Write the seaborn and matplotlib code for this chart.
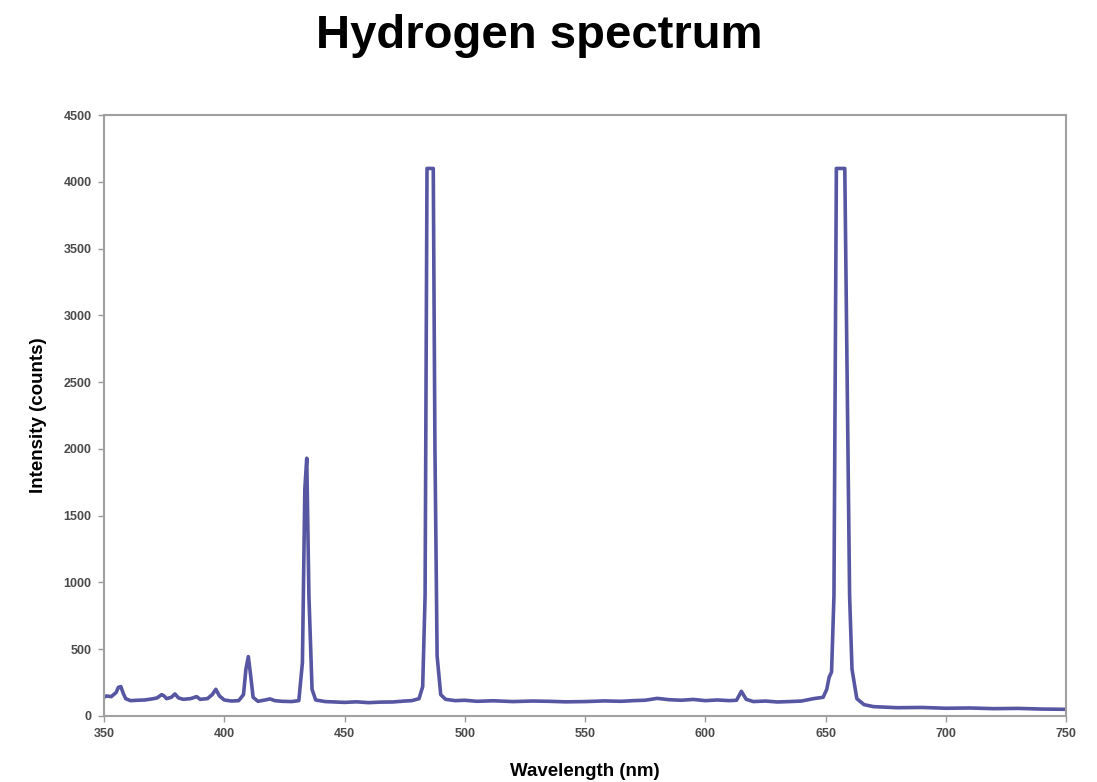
import matplotlib
matplotlib.use("Agg")
import matplotlib.pyplot as plt
import seaborn as sns
import pandas as pd

wavelength = [350, 351, 353, 355, 356, 357, 358, 359, 361, 364, 367, 370, 372, 374, 375, 376,
              378, 379.5, 381, 383, 386, 388.5, 390, 393, 395, 396.5, 398, 400, 403, 406, 408,
              409, 410, 411, 412, 414, 417, 419, 421, 424, 428, 431, 432.5, 433.5, 434.3, 435.2,
              436.5, 438, 442, 450, 455, 460, 465, 470, 475, 478, 481, 482.5, 483.5, 484.3, 486.9,
              487.6, 488.5, 490, 492, 496, 500, 505, 512, 520, 528, 535, 542, 550, 558, 565, 570,
              575, 580, 585, 590, 595, 600, 605, 610, 613, 615, 617, 620, 625, 630, 635, 640, 645,
              649, 650.5, 651.5, 652.5, 653.5, 654.5, 658.0, 659, 660, 661, 663, 666, 670, 680,
              690, 700, 710, 720, 730, 740, 750]
intensity = [140, 150, 145, 175, 215, 220, 170, 130, 115, 118, 120, 128, 135, 160, 150, 130,
             140, 165, 135, 125, 130, 145, 125, 130, 160, 200, 150, 120, 112, 115, 160,
             350, 445, 300, 140, 110, 120, 128, 115, 110, 108, 115, 400, 1700, 1930, 900,
             200, 120, 108, 102, 106, 100, 104, 105, 112, 115, 130, 220, 900, 4100, 4100,
             2000, 450, 160, 125, 115, 118, 110, 114, 108, 112, 110, 106, 108, 113, 110, 115,
             118, 132, 122, 118, 124, 115, 120, 115, 118, 185, 125, 108, 112, 105, 108, 112, 130,
             140, 200, 290, 330, 900, 4100, 4100, 2500, 900, 350, 130, 85, 70, 62,
             64, 58, 60, 55, 57, 52, 50]

x_ticks = [350, 400, 450, 500, 550, 600, 650, 700, 750]
y_ticks = [0, 500, 1000, 1500, 2000, 2500, 3000, 3500, 4000, 4500]

df = pd.DataFrame({"Wavelength": wavelength, "Intensity": intensity})

sns.set_style("white")
plt.rcParams['font.family'] = ['Liberation Sans', 'DejaVu Sans']

fig = plt.figure(figsize=(10.97, 7.82), dpi=100)
ax = fig.add_axes([0.0948, 0.0844, 0.8770, 0.7685])

sns.lineplot(data=df, x="Wavelength", y="Intensity", ax=ax, color="#5656a2",
             linewidth=2.6, solid_joinstyle="round", solid_capstyle="round")

ax.set_xlim(350, 750)
ax.set_ylim(0, 4500)
ax.set_xticks(x_ticks)
ax.set_yticks(y_ticks)
ax.set_xticklabels([str(t) for t in x_ticks], fontsize=9, fontweight="bold", color="#4a4a4a")
ax.set_yticklabels([str(t) for t in y_ticks], fontsize=9, fontweight="bold", color="#4a4a4a")
ax.tick_params(axis="both", which="major", bottom=True, left=True, direction="out",
               length=4, width=1, color="#9a9a9a", pad=5)

for s in ax.spines.values():
    s.set_visible(True)
    s.set_color("#a0a0a0")
    s.set_linewidth(1.5)

ax.set_xlabel("Wavelength (nm)", fontsize=13.5, fontweight="bold", labelpad=16, color="black")
ax.set_ylabel("Intensity (counts)", fontsize=13.5, fontweight="bold", labelpad=12, color="black")

fig.suptitle("Hydrogen spectrum", x=0.492, y=0.982, fontsize=34, fontweight="bold", color="black")

fig.savefig("out.png", dpi=100, facecolor="white")
